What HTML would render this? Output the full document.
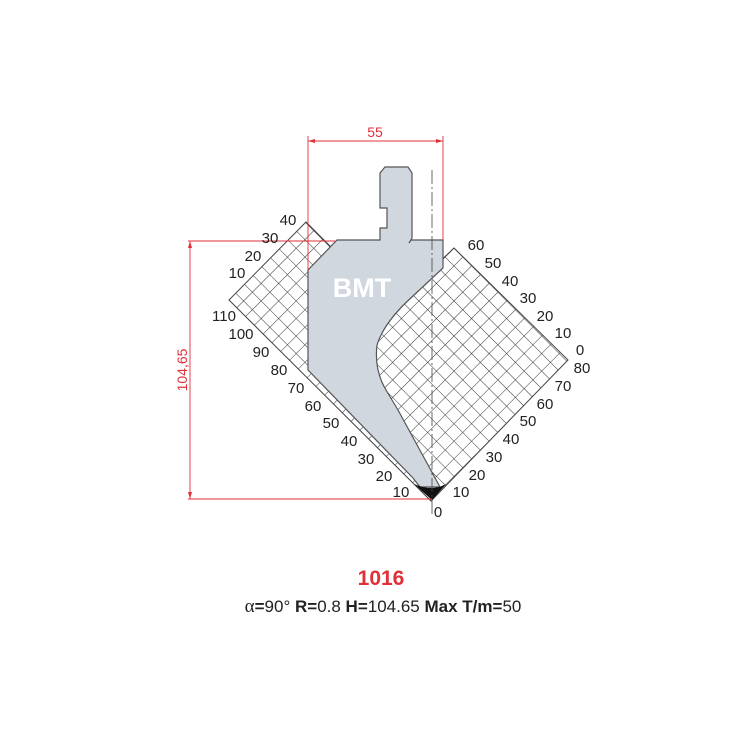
<!DOCTYPE html>
<html><head><meta charset="utf-8"><style>
html,body{margin:0;padding:0;background:#fff;width:740px;height:740px;overflow:hidden}
svg{display:block}
text{font-family:"Liberation Sans",sans-serif}
</style></head><body>
<svg width="740" height="740" viewBox="0 0 740 740" xmlns="http://www.w3.org/2000/svg">
<defs>
<pattern id="hatch" width="12.4" height="12.4" patternUnits="userSpaceOnUse" patternTransform="translate(454,248) rotate(45)">
<path d="M0 0H12.4M0 0V12.4" stroke="#333" stroke-width="1" fill="none"/>
</pattern>
<clipPath id="hc"><polygon points="306,222 229,300 431,501 568,360 454,248 400,300 340,256"/></clipPath>
</defs>
<g clip-path="url(#hc)"><rect x="220" y="215" width="360" height="300" fill="url(#hatch)"/></g>
<polygon points="306,222 229,300 431,501 568,360 454,248 400,300 340,256" fill="none" stroke="#444" stroke-width="1"/>
<path d="M380,173 L385,167 L408,167 L412,173 L412,238 L409,243 L411,240 L443,240 L443,268 L413,296 Q384,322 377,345 Q374,370 386,390 L398,410 L440,487 L420,487 L413,478 L308,370 L308,270 L337,240 L380,240 L380,228 L387,228 L387,208 L380,208 Z" fill="#d0d7de" stroke="#555" stroke-width="1.2"/>
<path d="M414,484 Q432,492 446,484 L432,500 Z" fill="#111"/>
<text x="362" y="297" font-size="27" font-weight="bold" fill="#fff" text-anchor="middle">BMT</text>
<line x1="432" y1="170" x2="432" y2="515" stroke="#444" stroke-width="0.8" stroke-dasharray="14,3,2,3"/>
<g stroke="#e0303a" stroke-width="0.9" fill="none">
<line x1="308" y1="136" x2="308" y2="270"/><line x1="443" y1="136" x2="443" y2="240"/>
<line x1="308" y1="141" x2="443" y2="141"/>
<line x1="188" y1="241" x2="335" y2="241"/><line x1="188" y1="499" x2="432" y2="499"/>
<line x1="190" y1="241" x2="190" y2="499"/>
</g>
<g fill="#e0303a"><path d="M308,141 l7,-2 v4z"/><path d="M443,141 l-7,-2 v4z"/><path d="M190,241 l-2,7 h4z"/><path d="M190,499 l-2,-7 h4z"/></g>
<text x="375" y="137" font-size="14" fill="#e0303a" text-anchor="middle">55</text>
<text transform="translate(187,370) rotate(-90)" font-size="14" fill="#e0303a" text-anchor="middle">104,65</text>
<g font-size="15" fill="#222" text-anchor="middle">
<text x="288" y="225">40</text><text x="270" y="243">30</text><text x="253" y="261">20</text><text x="237" y="278">10</text>
<text x="224" y="321">110</text><text x="241" y="339">100</text><text x="261" y="357">90</text><text x="279" y="375">80</text>
<text x="296" y="393">70</text><text x="313" y="411">60</text><text x="331" y="428">50</text><text x="349" y="446">40</text>
<text x="366" y="464">30</text><text x="384" y="481">20</text><text x="401" y="497">10</text>
<text x="476" y="250">60</text><text x="493" y="268">50</text><text x="510" y="286">40</text><text x="528" y="303">30</text>
<text x="545" y="321">20</text><text x="563" y="338">10</text><text x="580" y="355">0</text><text x="582" y="373">80</text>
<text x="563" y="391">70</text><text x="545" y="409">60</text><text x="528" y="426">50</text><text x="511" y="444">40</text>
<text x="494" y="462">30</text><text x="477" y="480">20</text><text x="461" y="497">10</text><text x="438" y="517">0</text>
</g>
<text x="381" y="585" font-size="21" font-weight="bold" fill="#e0303a" text-anchor="middle">1016</text>
<text x="383" y="612" font-size="17" fill="#222" text-anchor="middle"><tspan font-family="Liberation Serif" font-size="19">α</tspan><tspan font-weight="bold">=</tspan>90°   <tspan font-weight="bold">R=</tspan>0.8   <tspan font-weight="bold">H=</tspan>104.65    <tspan font-weight="bold">Max T/m=</tspan>50</text>
</svg>
</body></html>
